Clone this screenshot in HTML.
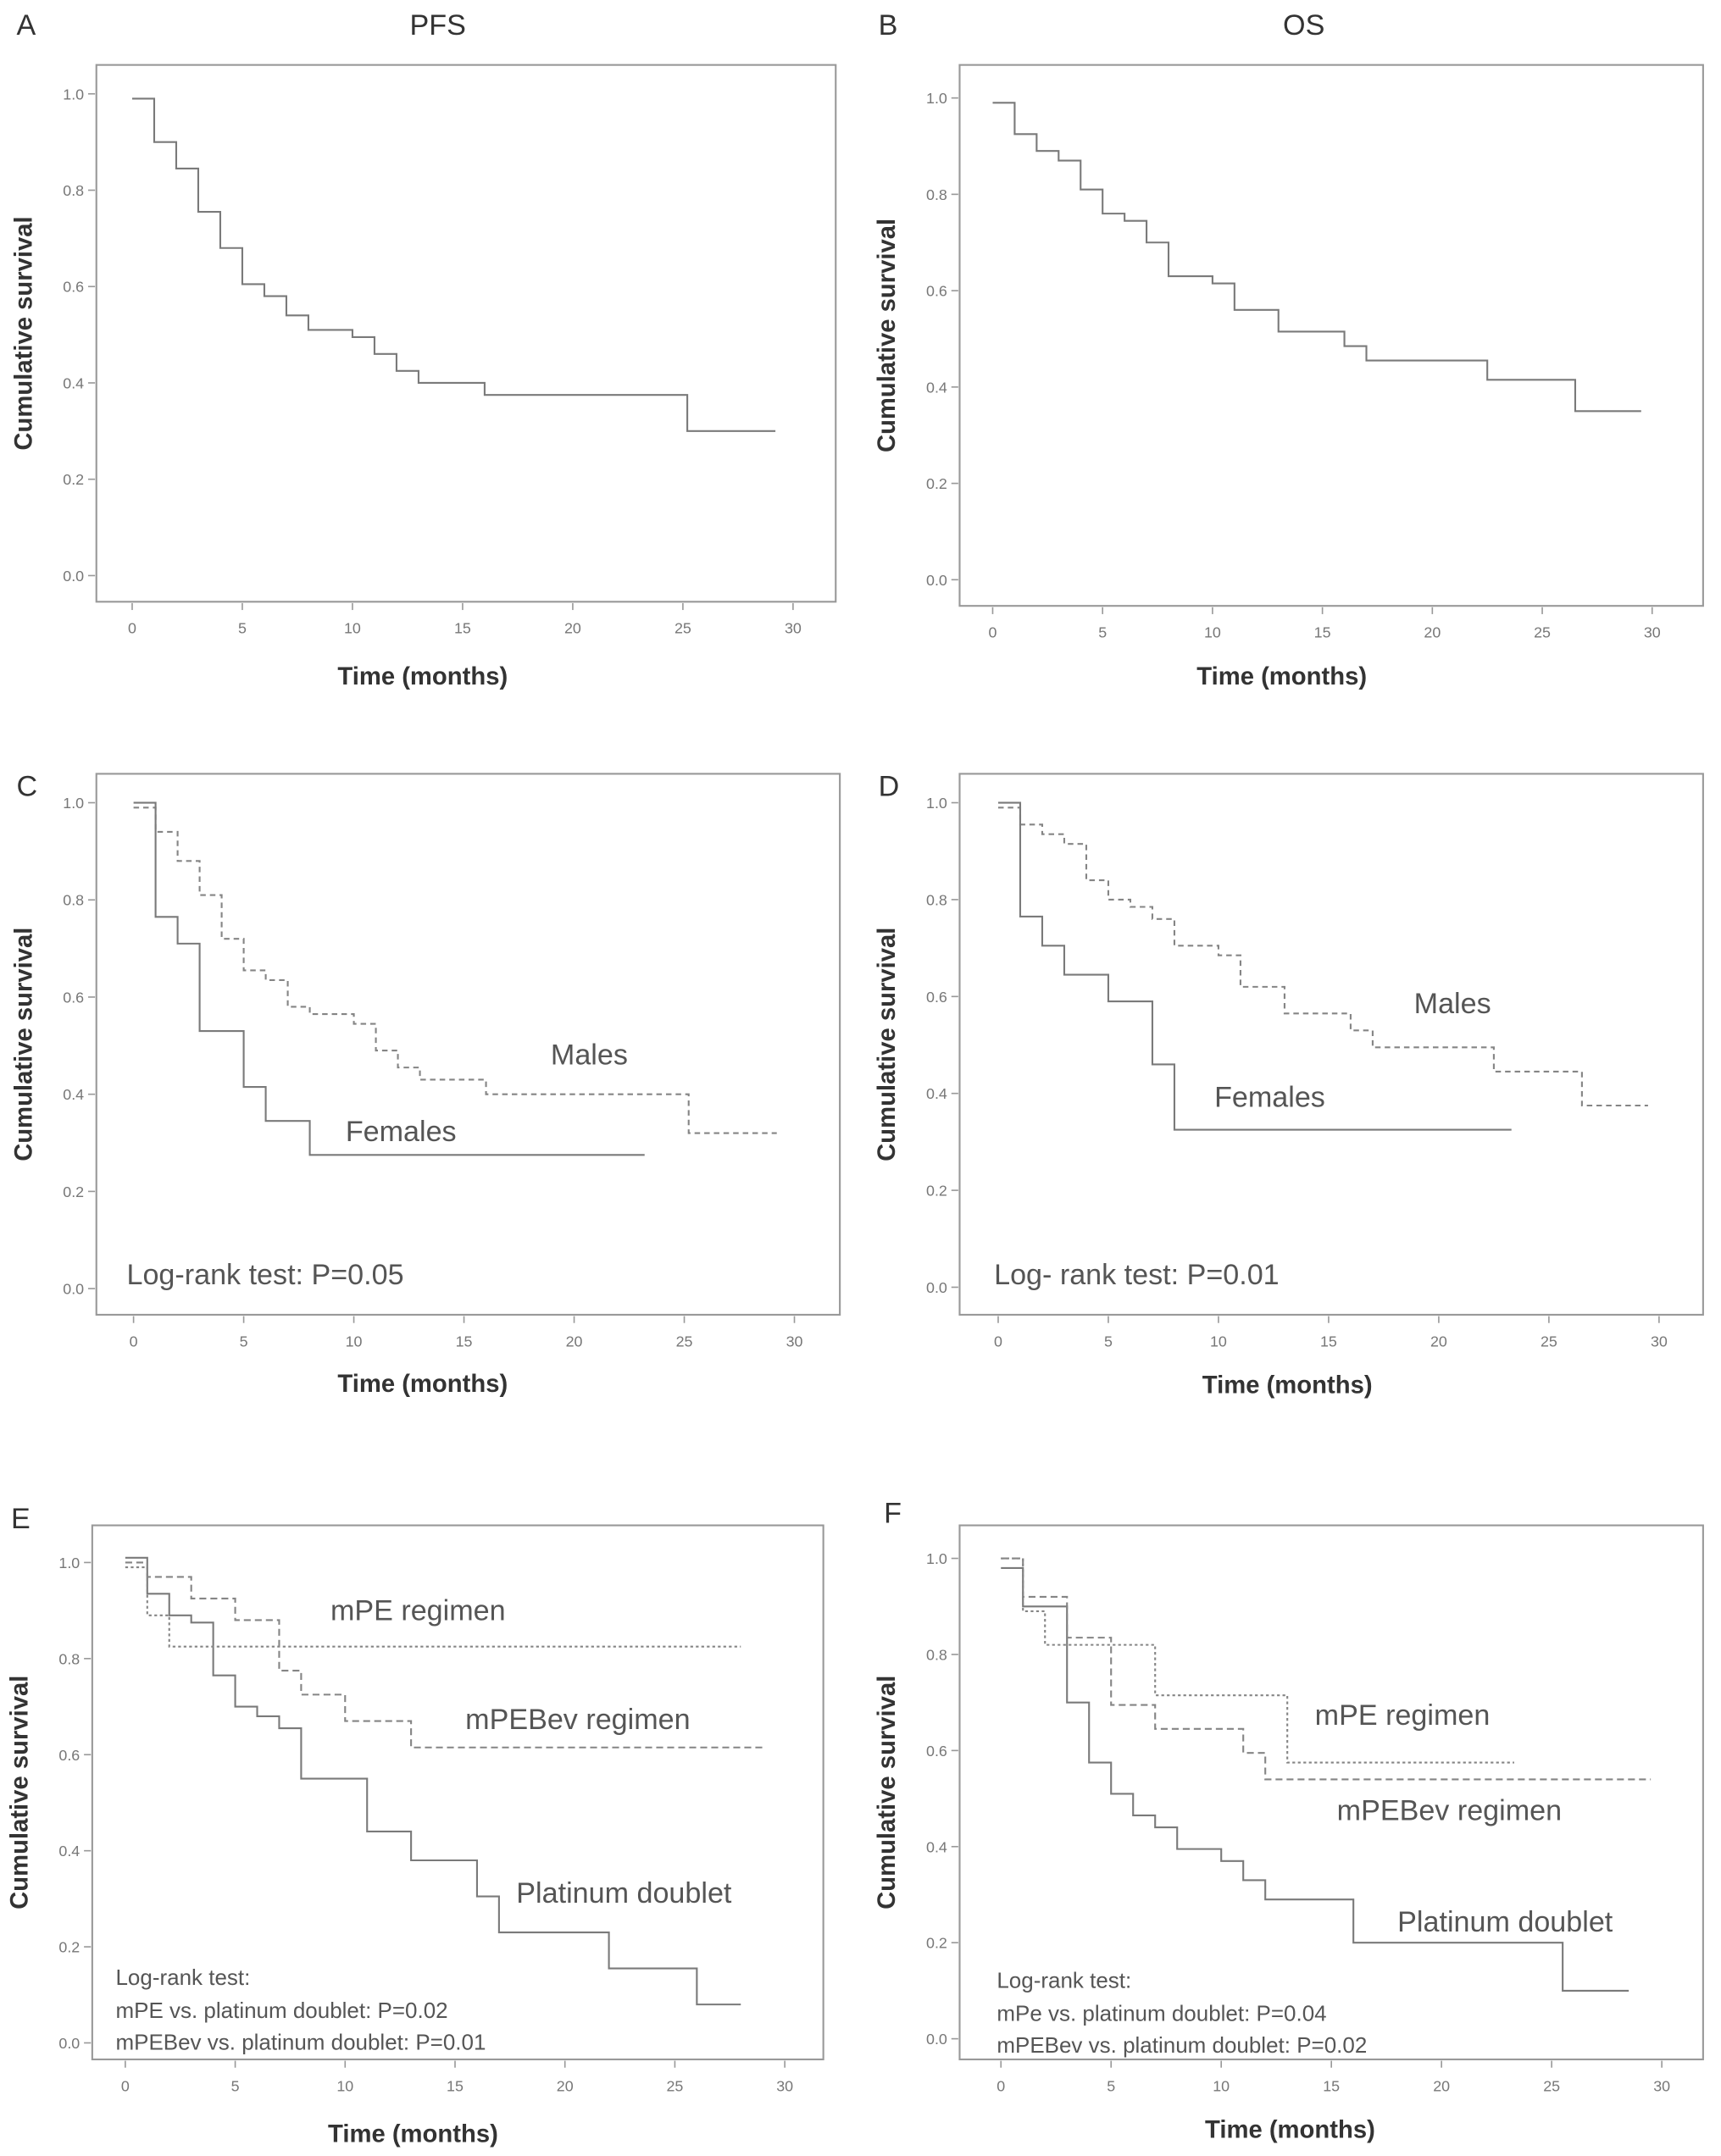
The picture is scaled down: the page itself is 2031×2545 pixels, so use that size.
<!DOCTYPE html>
<html><head><meta charset="utf-8">
<style>
html,body{margin:0;padding:0;background:#fff;}
svg{display:block;}
text{font-family:"Liberation Sans",sans-serif;}
</style></head>
<body>
<svg id="fig" xmlns="http://www.w3.org/2000/svg" width="2031" height="2545" viewBox="0 0 1250 1566"></svg>
<script>
// ---- data (time in months, cumulative survival) ----
const ticksX = [0,5,10,15,20,25,30];
const ticksY = [0.0,0.2,0.4,0.6,0.8,1.0];
const aTimes = [0,1,2,3,4,5,6,7,8,10,11,12,13,16,25.2,29.2];
const aVals  = [0.99,0.90,0.845,0.755,0.68,0.605,0.58,0.54,0.51,0.495,0.46,0.425,0.40,0.375,0.30,0.30];
const bTimes = [0,1,2,3,4,5,6,7,8,10,11,13,16,17,22.5,26.5,29.5];
const bVals  = [0.99,0.925,0.89,0.87,0.81,0.76,0.745,0.70,0.63,0.615,0.56,0.515,0.485,0.455,0.415,0.35,0.35];
const cMaleTimes = [0,1,2,3,4,5,6,7,8,10,11,12,13,16,25.2,29.2];
const cMaleVals  = [0.99,0.94,0.88,0.81,0.72,0.655,0.635,0.58,0.565,0.545,0.49,0.455,0.43,0.40,0.32,0.32];
const cFemTimes = [0,1,2,3,5,6,8,23.2];
const cFemVals  = [1.0,0.765,0.71,0.53,0.415,0.345,0.275,0.275];
const dMaleTimes = [0,1,2,3,4,5,6,7,8,10,11,13,16,17,22.5,26.5,29.5];
const dMaleVals  = [0.99,0.955,0.935,0.915,0.84,0.80,0.785,0.76,0.705,0.685,0.62,0.565,0.53,0.495,0.445,0.375,0.375];
const dFemTimes = [0,1,2,3,5,7,8,23.3];
const dFemVals  = [1.0,0.765,0.705,0.645,0.59,0.46,0.325,0.325];
const ePlatTimes = [0,1,2,3,4,5,6,7,8,11,13,16,17,22,26,28];
const ePlatVals  = [1.01,0.935,0.89,0.875,0.765,0.70,0.68,0.655,0.55,0.44,0.38,0.305,0.23,0.155,0.08,0.08];
const eMpeTimes = [0,1,2,28];
const eMpeVals  = [0.99,0.89,0.825,0.825];
const eBevTimes = [0,1,3,5,7,8,10,13,29];
const eBevVals  = [1.0,0.97,0.925,0.88,0.775,0.725,0.67,0.615,0.615];
const fPlatTimes = [0,1,3,4,5,6,7,8,10,11,12,16,25.5,28.5];
const fPlatVals  = [0.98,0.90,0.70,0.575,0.51,0.465,0.44,0.395,0.37,0.33,0.29,0.20,0.10,0.10];
const fMpeTimes = [0,1,2,7,13,23.3];
const fMpeVals  = [1.0,0.89,0.82,0.715,0.575,0.575];
const fBevTimes = [0,1,3,5,7,11,12,29.5];
const fBevVals  = [1.0,0.92,0.835,0.695,0.645,0.595,0.54,0.54];

const NS="http://www.w3.org/2000/svg";
const svg=document.getElementById('fig');
function mk(tag,attrs,parent){const e=document.createElementNS(NS,tag);for(const k in attrs)e.setAttribute(k,attrs[k]);(parent||svg).appendChild(e);return e;}
function txt(s,attrs,parent){const e=mk('text',attrs,parent);e.textContent=s;return e;}

const panels=[
 {id:'a',letter:'A',lx:12,ly:25,box:[70,47,607,437],y1:68,y0:418,x0:96,x30:576,xl:[307,497],
  series:[[aTimes,aVals,'']],labels:[]},
 {id:'b',letter:'B',lx:638,ly:25,box:[697,47,1237,440],y1:71,y0:421,x0:721,x30:1200,xl:[931,497],
  series:[[bTimes,bVals,'']],labels:[]},
 {id:'c',letter:'C',lx:12,ly:578,box:[70,562,610,955],y1:583,y0:936,x0:97,x30:577,xl:[307,1011],
  series:[[cMaleTimes,cMaleVals,'4,3','males-curve'],[cFemTimes,cFemVals,'','females-curve']],
  labels:[['Males',400,773,'males-label'],['Females',251,829,'females-label'],['Log-rank test:  P=0.05',92,933,'log-rank-text']]},
 {id:'d',letter:'D',lx:638,ly:578,box:[697,562,1237,955],y1:583,y0:935,x0:725,x30:1205,xl:[935,1012],
  series:[[dMaleTimes,dMaleVals,'4,3','males-curve'],[dFemTimes,dFemVals,'','females-curve']],
  labels:[['Males',1027,736,'males-label'],['Females',882,804,'females-label'],['Log- rank test:  P=0.01',722,933,'log-rank-text']]},
 {id:'e',letter:'E',lx:8,ly:1110,box:[67,1108,598,1496],y1:1135,y0:1484,x0:91,x30:570,xl:[300,1556],
  series:[[ePlatTimes,ePlatVals,'','platinum-doublet-curve'],[eMpeTimes,eMpeVals,'2,2','mpe-curve'],[eBevTimes,eBevVals,'5,3','mpebev-curve']],
  labels:[['mPE regimen',240,1177,'mpe-label'],['mPEBev regimen',338,1256,'mpebev-label'],['Platinum doublet',375,1382,'platinum-label']],
  small:[['Log-rank test:',84,1442],['mPE vs. platinum doublet: P=0.02',84,1466],['mPEBev vs. platinum doublet: P=0.01',84,1489]]},
 {id:'f',letter:'F',lx:642,ly:1106,box:[697,1108,1237,1496],y1:1132,y0:1481,x0:727,x30:1207,xl:[937,1553],
  series:[[fPlatTimes,fPlatVals,'','platinum-doublet-curve'],[fMpeTimes,fMpeVals,'2,2','mpe-curve'],[fBevTimes,fBevVals,'5,3','mpebev-curve']],
  labels:[['mPE regimen',955,1253,'mpe-label'],['mPEBev regimen',971,1322,'mpebev-label'],['Platinum doublet',1015,1403,'platinum-label']],
  small:[['Log-rank test:',724,1444],['mPe vs. platinum doublet: P=0.04',724,1468],['mPEBev vs. platinum doublet: P=0.02',724,1491]]}
];

panels.forEach(p=>{
  const g=mk('g',{});
  
  
  const sx=t=>p.x0+(p.x30-p.x0)*t/30;
  const sy=v=>p.y0+(p.y1-p.y0)*v;
  const L=txt(p.letter,{x:p.lx,y:p.ly,'font-size':21,fill:'#333'},g);
  
  
  const [bx0,by0,bx1,by1]=p.box;
  const fr=mk('rect',{x:bx0,y:by0,width:bx1-bx0,height:by1-by0,fill:'none',stroke:'#999','stroke-width':1.3},g);
  
  
  ticksY.forEach(v=>{
    mk('line',{x1:bx0-1,x2:bx0-6,y1:sy(v),y2:sy(v),stroke:'#999','stroke-width':1},g);
    const t=txt(v.toFixed(1),{x:bx0-9,y:sy(v)+4,'font-size':11,fill:'#777','text-anchor':'end'},g);
    
    
  });
  ticksX.forEach(v=>{
    mk('line',{x1:sx(v),x2:sx(v),y1:by1+1,y2:by1+6,stroke:'#999','stroke-width':1},g);
    const t=txt(String(v),{x:sx(v),y:by1+23,'font-size':11,fill:'#777','text-anchor':'middle'},g);
    
    
  });
  const yc=(by0+by1)/2, ylx=bx0-47;
  const yt=txt('Cumulative survival',{x:ylx,y:yc,'font-size':18,'font-weight':'bold',fill:'#333','text-anchor':'middle',transform:`rotate(-90 ${ylx} ${yc})`},g);
  
  
  const xt=txt('Time (months)',{x:p.xl[0],y:p.xl[1],'font-size':18,'font-weight':'bold',fill:'#333','text-anchor':'middle'},g);
  
  
  p.series.forEach(s=>{
    const [ts,vs,dash,name]=s;
    let d=`M${sx(ts[0])},${sy(vs[0])}`;
    for(let i=1;i<ts.length;i++){d+=` H${sx(ts[i])} V${sy(vs[i])}`;}
    const a={d:d,fill:'none',stroke:dash?'#858585':'#7a7a7a','stroke-width':1.3};
    if(dash)a['stroke-dasharray']=dash;
    const path=mk('path',a,g);
    
    
  });
  p.labels.forEach(l=>{
    const t=txt(l[0],{x:l[1],y:l[2],'font-size':21,fill:'#555'},g);
    
    
  });
  (p.small||[]).forEach(l=>{
    const t=txt(l[0],{x:l[1],y:l[2],'font-size':16,fill:'#555'},g);
    
    
  });
});
const t1=txt('PFS',{x:318,y:25,'font-size':21,fill:'#333','text-anchor':'middle'});


const t2=txt('OS',{x:947,y:25,'font-size':21,fill:'#333','text-anchor':'middle'});


</script>
</body></html>
